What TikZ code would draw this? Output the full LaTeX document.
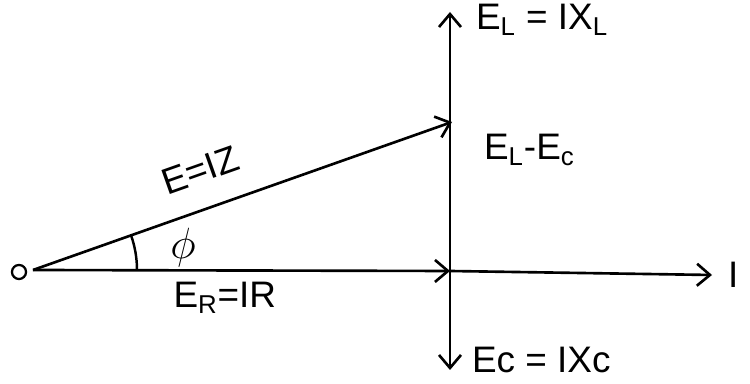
\documentclass[tikz,border=0pt]{standalone}
\usepackage{fontspec}
\setmainfont{Liberation Sans}
\usetikzlibrary{arrows.meta, positioning, calc}
\begin{document}
\begin{tikzpicture}[
        x=0.02cm, y=0.02cm,
        phasor/.style={-{Straight Barb[length=2.6mm, width=4.4mm]}, line width=1.5pt},
        lbl/.style={font=\fontsize{21}{24}\selectfont, inner sep=1pt}
    ]
    \useasboundingbox (0,0) rectangle (750,384);
    \node[circle, draw, line width=1.3pt, inner sep=0pt, minimum size=8pt] (orig) at (19,112) {};
    \coordinate (start) at (33,114);
    \coordinate (mid) at (450,113);
    \coordinate (tipI) at (712,109);
    \coordinate (tipL) at (450,372);
    \coordinate (tipC) at (450,14);
    \coordinate (tipE) at (452,262);
    \draw[phasor] (start) -- node[lbl, pos=0.46, below=5pt] (er) {E\textsubscript{R}=IR} (mid);
    \draw[phasor] (mid) -- (tipI);
    \draw[phasor] (mid) -- (tipL);
    \draw[phasor] (mid) -- (tipC);
    \draw[phasor] (start) -- node[lbl, pos=0.43, sloped, above=13pt] (ez) {E=IZ} (tipE);
    \draw[line width=1.4pt] (start) ++(0:104) arc[start angle=0, end angle=19.4, radius=104];
    \node[lbl, font=\fontsize{25}{28}\selectfont] (phi) at (183,136) {$\phi$};
    \node[lbl, right=8pt of tipI] (i) {I};
    \node[lbl, anchor=west] (el) at (474,364) {E\textsubscript{L} = IX\textsubscript{L}};
    \node[lbl, anchor=west] (elc) at (482,234) {E\textsubscript{L}-E\textsubscript{c}};
    \node[lbl, anchor=west] (ec) at (470,24) {Ec = IXc};
\end{tikzpicture}
\end{document}
